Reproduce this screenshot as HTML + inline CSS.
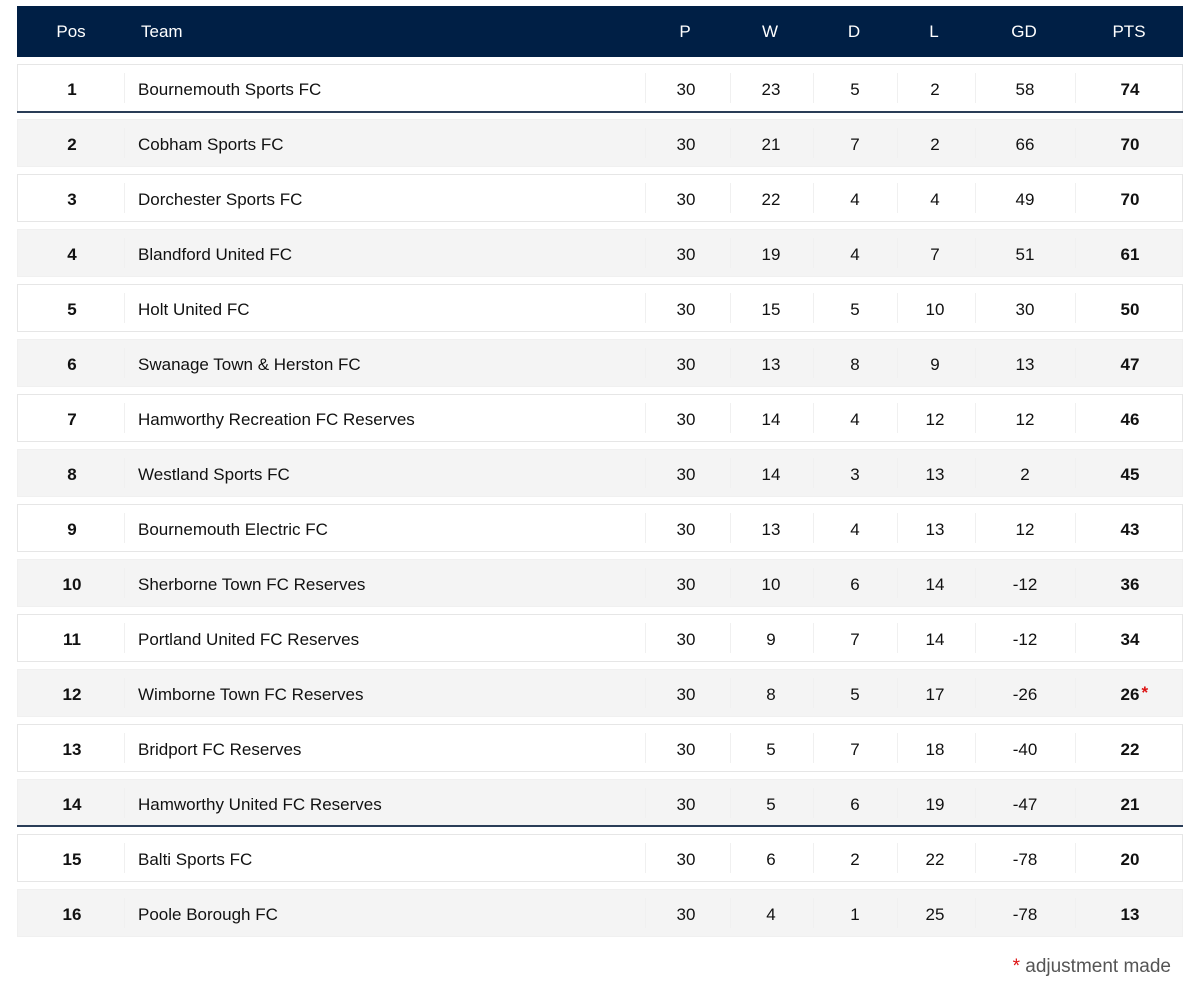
<!DOCTYPE html>
<html><head><meta charset="utf-8">
<style>
body{margin:0;width:1200px;height:998px;background:#fff;font-family:"Liberation Sans","DejaVu Sans",sans-serif;position:relative;overflow:hidden}
#hdr{position:absolute;left:17px;top:6px;width:1166px;height:51px;background:#001f45;color:#fff;font-size:17px}
.c{position:absolute;transform:translateX(-50%);white-space:nowrap}
.row{position:absolute;left:17px;width:1164px;height:46px;border:1px solid #e6e6e6;font-size:17px;color:#111}
.row.alt{background:#f4f4f4;border-color:#f0f0f0}
.div{position:absolute;top:8px;width:1px;height:30px;background:#f0f0f0}
.sep{position:absolute;left:17px;width:1166px;height:2px;background:#2a3d57}
#foot{position:absolute;right:29px;top:956px;font-size:19px;color:#555}
</style></head><body>
<div id="hdr"></div>
<div id="rows"></div>
<div id="foot"><span style="color:#d11">*</span> adjustment made</div>
<script>
const teams=["Bournemouth Sports FC","Cobham Sports FC","Dorchester Sports FC","Blandford United FC","Holt United FC","Swanage Town & Herston FC","Hamworthy Recreation FC Reserves","Westland Sports FC","Bournemouth Electric FC","Sherborne Town FC Reserves","Portland United FC Reserves","Wimborne Town FC Reserves","Bridport FC Reserves","Hamworthy United FC Reserves","Balti Sports FC","Poole Borough FC"];
const played=[30,30,30,30,30,30,30,30,30,30,30,30,30,30,30,30];
const won=[23,21,22,19,15,13,14,14,13,10,9,8,5,5,6,4];
const drawn=[5,7,4,4,5,8,4,3,4,6,7,5,7,6,2,1];
const lost=[2,2,4,7,10,9,12,13,13,14,14,17,18,19,22,25];
const gd=[58,66,49,51,30,13,12,2,12,-12,-12,-26,-40,-47,-78,-78];
const pts=[74,70,70,61,50,47,46,45,43,36,34,26,22,21,20,13];
const adjusted=[12];
const heads=["Pos","Team","P","W","D","L","GD","PTS"];
const cx=[54,0,668,753,837,917,1007,1112];
const hdr=document.getElementById('hdr');
heads.forEach((h,i)=>{const s=document.createElement('div');


if(i===1){s.style.cssText='position:absolute;left:124px;top:16px';}else{s.className='c';s.style.left=cx[i]+'px';s.style.top='16px';}
s.textContent=h;hdr.appendChild(s);});
const rows=document.getElementById('rows');
const divs=[106,627,712,795,879,957,1057];
teams.forEach((t,i)=>{
 const r=document.createElement('div');
 
 
 r.className='row'+(i%2?' alt':'');
 r.style.top=(64+55*i)+'px';
 divs.forEach(x=>{const d=document.createElement('div');d.className='div';d.style.left=x+'px';r.appendChild(d);});
 const vals=[i+1,t,played[i],won[i],drawn[i],lost[i],gd[i],pts[i]];
 const names=['pos','team','played','won','drawn','lost','goal-diff','points'];
 vals.forEach((v,j)=>{const s=document.createElement('div');
  
  
  if(j===1){s.style.cssText='position:absolute;left:120px;top:15px';}
  else{s.className='c';s.style.left=cx[j]+'px';s.style.top='15px';}
  if(j===0||j===7)s.style.fontWeight='bold';
  s.textContent=v;
  if(j===7&&adjusted.includes(i+1)){const a=document.createElement('span');a.textContent='*';a.style.cssText='color:#d11;position:absolute;left:100%;margin-left:2px;top:-2px';s.appendChild(a);}
  r.appendChild(s);});
 rows.appendChild(r);
});
[111,825].forEach(y=>{const s=document.createElement('div');s.className='sep';s.style.top=y+'px';


rows.appendChild(s);});
</script>
</body></html>
